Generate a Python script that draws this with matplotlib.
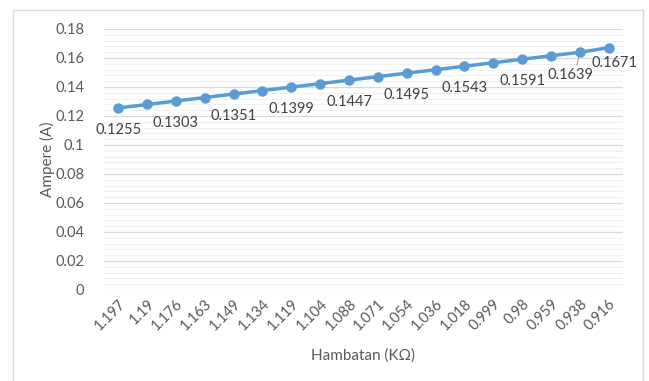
import matplotlib.pyplot as plt
from matplotlib.ticker import MultipleLocator
from matplotlib.patches import Rectangle

# resistance (kOhm) along x, current (A) along y
hambatan = ["1.197", "1.19", "1.176", "1.163", "1.149", "1.134", "1.119", "1.104", "1.088",
            "1.071", "1.054", "1.036", "1.018", "0.999", "0.98", "0.959", "0.938", "0.916"]
ampere = [0.1255, 0.1279, 0.1303, 0.1327, 0.1351, 0.1375, 0.1399, 0.1423, 0.1447,
          0.1471, 0.1495, 0.1519, 0.1543, 0.1567, 0.1591, 0.1615, 0.1639, 0.1671]
# points that carry a value label
labelled = [0, 2, 4, 6, 8, 10, 12, 14, 16, 17]
ytick_vals = [0, 0.02, 0.04, 0.06, 0.08, 0.1, 0.12, 0.14, 0.16, 0.18]
ytick_text = ['0', '0.02', '0.04', '0.06', '0.08', '0.1', '0.12', '0.14', '0.16', '0.18']

plt.rcParams['font.family'] = ['Lato', 'DejaVu Sans']
grey = '#595959'

fig = plt.figure(figsize=(6.49, 3.81), dpi=100)
ax = fig.add_axes([0.160, 0.239, 0.800, 0.685])

# chart border
fig.patches.append(Rectangle((13 / 649, -0.05), 630 / 649, 1.05 - 10 / 381,
                             transform=fig.transFigure, fill=False,
                             edgecolor='#d9d9d9', linewidth=1.0))

x = list(range(len(hambatan)))
ax.plot(x, ampere, color='#5b9bd5', linewidth=2.5, marker='o', markersize=6.5, zorder=3)

for i in labelled:
    dx, dy = 0, -22
    if i == 16:
        dx, dy = -9, -23
    elif i == 17:
        dx, dy = 6, -15
    ax.annotate(str(ampere[i]), (x[i], ampere[i]), xytext=(dx, dy),
                textcoords='offset pixels', ha='center', va='center',
                fontsize=10.5, color='#404040')

# small leader line for the crowded label
ax.annotate('', (x[16], ampere[16]), xytext=(-3, -13), textcoords='offset pixels',
            arrowprops=dict(arrowstyle='-', color='#a6a6a6', lw=0.8, shrinkA=0, shrinkB=4))

ax.set_xlim(-0.5, len(hambatan) - 0.5)
ax.set_ylim(0, 0.18)
ax.set_yticks(ytick_vals)
ax.set_yticklabels(ytick_text)
ax.yaxis.set_minor_locator(MultipleLocator(0.004))
ax.set_xticks(x)
ax.set_xticklabels(hambatan, rotation=45, ha='right', rotation_mode='anchor')

ax.grid(which='major', axis='y', color='#d9d9d9', linewidth=0.9)
ax.grid(which='minor', axis='y', color='#f0f0f0', linewidth=0.8)
ax.set_axisbelow(True)
for s in ax.spines.values():
    s.set_visible(False)
ax.tick_params(which='both', length=0, colors=grey, labelsize=10.5)
ax.tick_params(axis='y', pad=14)
ax.tick_params(axis='x', pad=5)

ax.set_ylabel('Ampere (A)', color=grey, fontsize=11, labelpad=0)
ax.set_xlabel('Hambatan (KΩ)', color=grey, fontsize=11, labelpad=11)

fig.savefig('out.png', dpi=100)
